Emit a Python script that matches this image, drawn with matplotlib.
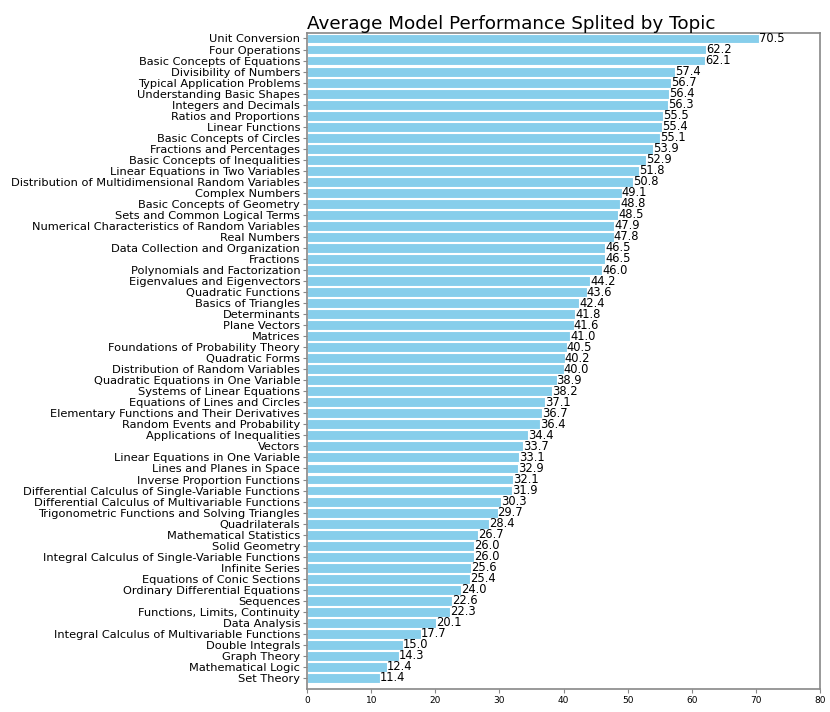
import matplotlib
matplotlib.use("Agg")
import matplotlib.pyplot as plt

topics = [
    "Unit Conversion", "Four Operations", "Basic Concepts of Equations", "Divisibility of Numbers",
    "Typical Application Problems", "Understanding Basic Shapes", "Integers and Decimals",
    "Ratios and Proportions", "Linear Functions", "Basic Concepts of Circles",
    "Fractions and Percentages", "Basic Concepts of Inequalities", "Linear Equations in Two Variables",
    "Distribution of Multidimensional Random Variables", "Complex Numbers", "Basic Concepts of Geometry",
    "Sets and Common Logical Terms", "Numerical Characteristics of Random Variables", "Real Numbers",
    "Data Collection and Organization", "Fractions", "Polynomials and Factorization",
    "Eigenvalues and Eigenvectors", "Quadratic Functions", "Basics of Triangles", "Determinants",
    "Plane Vectors", "Matrices", "Foundations of Probability Theory", "Quadratic Forms",
    "Distribution of Random Variables", "Quadratic Equations in One Variable",
    "Systems of Linear Equations", "Equations of Lines and Circles",
    "Elementary Functions and Their Derivatives", "Random Events and Probability",
    "Applications of Inequalities", "Vectors", "Linear Equations in One Variable",
    "Lines and Planes in Space", "Inverse Proportion Functions",
    "Differential Calculus of Single-Variable Functions", "Differential Calculus of Multivariable Functions",
    "Trigonometric Functions and Solving Triangles", "Quadrilaterals", "Mathematical Statistics",
    "Solid Geometry", "Integral Calculus of Single-Variable Functions", "Infinite Series",
    "Equations of Conic Sections", "Ordinary Differential Equations", "Sequences",
    "Functions, Limits, Continuity", "Data Analysis", "Integral Calculus of Multivariable Functions",
    "Double Integrals", "Graph Theory", "Mathematical Logic", "Set Theory",
]
scores = [
    70.5, 62.2, 62.1, 57.4, 56.7, 56.4, 56.3, 55.5, 55.4, 55.1,
    53.9, 52.9, 51.8, 50.8, 49.1, 48.8, 48.5, 47.9, 47.8, 46.5,
    46.5, 46.0, 44.2, 43.6, 42.4, 41.8, 41.6, 41.0, 40.5, 40.2,
    40.0, 38.9, 38.2, 37.1, 36.7, 36.4, 34.4, 33.7, 33.1, 32.9,
    32.1, 31.9, 30.3, 29.7, 28.4, 26.7, 26.0, 26.0, 25.6, 25.4,
    24.0, 22.6, 22.3, 20.1, 17.7, 15.0, 14.3, 12.4, 11.4,
]
xticks = [0, 10, 20, 30, 40, 50, 60, 70, 80]

fig = plt.figure(figsize=(8.3, 7.12), dpi=100)
ax = fig.add_axes([0.370, 0.0323, 0.618, 0.9214])
pos = list(range(len(topics)))
ax.barh(pos, scores, height=0.9, color="#87CEEB", edgecolor="white", linewidth=0.8)
for p, v in zip(pos, scores):
    ax.text(v, p, f"{v:.1f}", va="center", ha="left", fontsize=8.3, color="black")
ax.set_yticks(pos)
ax.set_yticklabels(topics, fontsize=8.2)
ax.set_ylim(len(topics) - 0.0, -0.5)
ax.set_xlim(0, 80)
ax.set_xticks(xticks)
ax.set_xticklabels([str(t) for t in xticks], fontsize=6.5)
for s in ax.spines.values():
    s.set_color("#888888")
    s.set_linewidth(1.2)
ax.tick_params(axis="both", colors="#888888", length=3, width=0.8, pad=2)
for lab in ax.get_xticklabels() + ax.get_yticklabels():
    lab.set_color("black")
ax.set_title("Average Model Performance Splited by Topic", loc="left", fontsize=13.2, pad=3)
fig.savefig("out.png", dpi=100)
